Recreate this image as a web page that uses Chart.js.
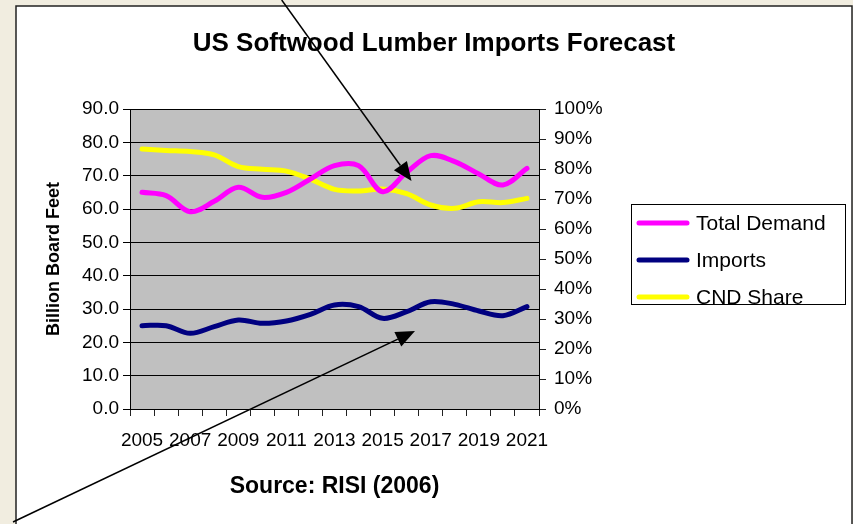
<!DOCTYPE html>
<html>
<head>
<meta charset="utf-8">
<script src="https://cdn.jsdelivr.net/npm/chart.js@4.4.1/dist/chart.umd.min.js"></script>
<style>
    html, body { margin: 0; padding: 0; background: #f1ede0; }
    #wrap { width: 853px; height: 524px; position: relative; }
</style>
</head>
<body>
<div id="wrap"><canvas id="lumberChart" width="853" height="524"></canvas></div>
<script>
const years = ['2005', '2006', '2007', '2008', '2009', '2010', '2011', '2012', '2013',
    '2014', '2015', '2016', '2017', '2018', '2019', '2020', '2021'];
const totalDemand = [65.0, 64.0, 59.2, 62.3, 66.5, 63.5, 65.0, 69.0, 73.0, 73.0, 65.2, 71.0, 76.0, 74.2, 70.5, 67.2, 72.2];
const imports = [25.0, 25.0, 22.7, 24.7, 26.7, 25.7, 26.4, 28.4, 31.2, 30.7, 27.2, 29.2, 32.2, 31.4, 29.4, 28.0, 30.7];
const cndShare = [86.7, 86.2, 85.8, 84.7, 80.8, 79.9, 79.3, 76.6, 73.2, 72.7, 73.3, 71.8, 68.0, 66.9, 69.1, 68.8, 70.2];
const leftTicks = [0, 10, 20, 30, 40, 50, 60, 70, 80, 90];
const rightTicks = [0, 10, 20, 30, 40, 50, 60, 70, 80, 90, 100];

(function () {
    const FONT = '"Liberation Sans", Arial, sans-serif';

    // frame, plot fill, title, source note, boxed legend and the two arrows
    const decorPlugin = {
        id: 'decor',
        beforeDraw(chart) {
            const { ctx, chartArea } = chart;
            ctx.save();
            ctx.fillStyle = '#f1ede0';
            ctx.fillRect(0, 0, chart.width, chart.height);
            ctx.fillStyle = '#ffffff';
            ctx.fillRect(16, 6, 836, 530);
            ctx.strokeStyle = '#222';
            ctx.lineWidth = 1.5;
            ctx.strokeRect(16, 6, 836, 530);
            ctx.fillStyle = '#c0c0c0';
            ctx.fillRect(chartArea.left, chartArea.top, chartArea.right - chartArea.left, chartArea.bottom - chartArea.top);
            ctx.restore();
        },
        afterDraw(chart) {
            const { ctx, chartArea } = chart;
            ctx.save();
            ctx.fillStyle = '#000';
            ctx.textAlign = 'center';
            ctx.textBaseline = 'middle';
            ctx.font = 'bold 26px ' + FONT;
            ctx.fillText('US Softwood Lumber Imports Forecast', 434, 44);
            ctx.font = 'bold 23px ' + FONT;
            ctx.fillText('Source: RISI (2006)', (chartArea.left + chartArea.right) / 2, 487);

            // legend
            ctx.strokeStyle = '#000';
            ctx.lineWidth = 1;
            ctx.strokeRect(631.5, 204.5, 214, 100);
            ctx.textAlign = 'left';
            ctx.font = '21px ' + FONT;
            chart.data.datasets.forEach((ds, i) => {
                const y = 223 + i * 37;
                ctx.strokeStyle = ds.borderColor;
                ctx.lineWidth = 5;
                ctx.lineCap = 'round';
                ctx.beginPath();
                ctx.moveTo(639, y);
                ctx.lineTo(687, y);
                ctx.stroke();
                ctx.fillStyle = '#000';
                ctx.fillText(ds.label, 696, y + 1);
            });

            drawArrow(ctx, 281.7, 0, 411.5, 181);
            drawArrow(ctx, 13, 522, 415, 331);
            ctx.restore();
        }
    };

    function drawArrow(ctx, x1, y1, x2, y2) {
        const angle = Math.atan2(y2 - y1, x2 - x1);
        const len = 19;
        const half = 8;
        const bx = x2 - len * Math.cos(angle);
        const by = y2 - len * Math.sin(angle);
        ctx.strokeStyle = '#000';
        ctx.lineWidth = 1.5;
        ctx.lineCap = 'butt';
        ctx.beginPath();
        ctx.moveTo(x1, y1);
        ctx.lineTo(bx, by);
        ctx.stroke();
        ctx.fillStyle = '#000';
        ctx.beginPath();
        ctx.moveTo(x2, y2);
        ctx.lineTo(bx + half * Math.sin(angle), by - half * Math.cos(angle));
        ctx.lineTo(bx - half * Math.sin(angle), by + half * Math.cos(angle));
        ctx.closePath();
        ctx.fill();
    }

    function lineSet(label, data, color, axis) {
        return {
            label: label,
            data: data,
            yAxisID: axis,
            borderColor: color,
            backgroundColor: color,
            borderWidth: 5,
            tension: 0.35,
            pointRadius: 0,
            borderCapStyle: 'round',
            borderJoinStyle: 'round',
            fill: false
        };
    }

    function init() {
        Chart.defaults.font.family = FONT;
        Chart.defaults.color = '#000';

        new Chart(document.getElementById('lumberChart'), {
            type: 'line',
            data: {
                labels: years,
                datasets: [
                    lineSet('Total Demand', totalDemand, '#ff00ff', 'y'),
                    lineSet('Imports', imports, '#000080', 'y'),
                    lineSet('CND Share', cndShare, '#ffff00', 'y1')
                ]
            },
            options: {
                responsive: false,
                animation: false,
                events: [],
                layout: { padding: { left: 30, right: 0, top: 109, bottom: 0 } },
                plugins: {
                    legend: { display: false },
                    title: { display: false },
                    tooltip: { enabled: false }
                },
                scales: {
                    x: {
                        offset: true,
                        afterFit(scale) { scale.height = 115; },
                        grid: { offset: true, drawOnChartArea: false, tickLength: 7, color: '#222' },
                        border: { display: true, color: '#000' },
                        ticks: {
                            autoSkip: false,
                            maxRotation: 0,
                            padding: 13,
                            font: { size: 19 },
                            callback: (value, index) => (index % 2 === 0 ? years[index] : '')
                        }
                    },
                    y: {
                        position: 'left',
                        min: leftTicks[0],
                        max: leftTicks[leftTicks.length - 1],
                        afterFit(scale) { scale.width = 100; },
                        afterBuildTicks(scale) { scale.ticks = leftTicks.map((v) => ({ value: v })); },
                        grid: { color: '#000', lineWidth: 1, tickLength: 7 },
                        border: { display: true, color: '#000' },
                        ticks: {
                            padding: 4,
                            font: { size: 19 },
                            callback: (value) => value.toFixed(1)
                        },
                        title: {
                            display: true,
                            text: 'Billion Board Feet',
                            font: { size: 18, weight: 'bold' },
                            padding: { top: 13, bottom: 0 }
                        }
                    },
                    y1: {
                        position: 'right',
                        min: rightTicks[0],
                        max: rightTicks[rightTicks.length - 1],
                        afterFit(scale) { scale.width = 853 - 539; },
                        afterBuildTicks(scale) { scale.ticks = rightTicks.map((v) => ({ value: v })); },
                        grid: { drawOnChartArea: false, tickLength: 7, color: '#222' },
                        border: { display: true, color: '#000' },
                        ticks: {
                            padding: 8,
                            font: { size: 19 },
                            callback: (value) => value + '%'
                        }
                    }
                }
            },
            plugins: [decorPlugin]
        });
    }

    if (document.readyState === 'loading') {
        document.addEventListener('DOMContentLoaded', init);
    } else {
        init();
    }
})();
</script>
</body>
</html>
